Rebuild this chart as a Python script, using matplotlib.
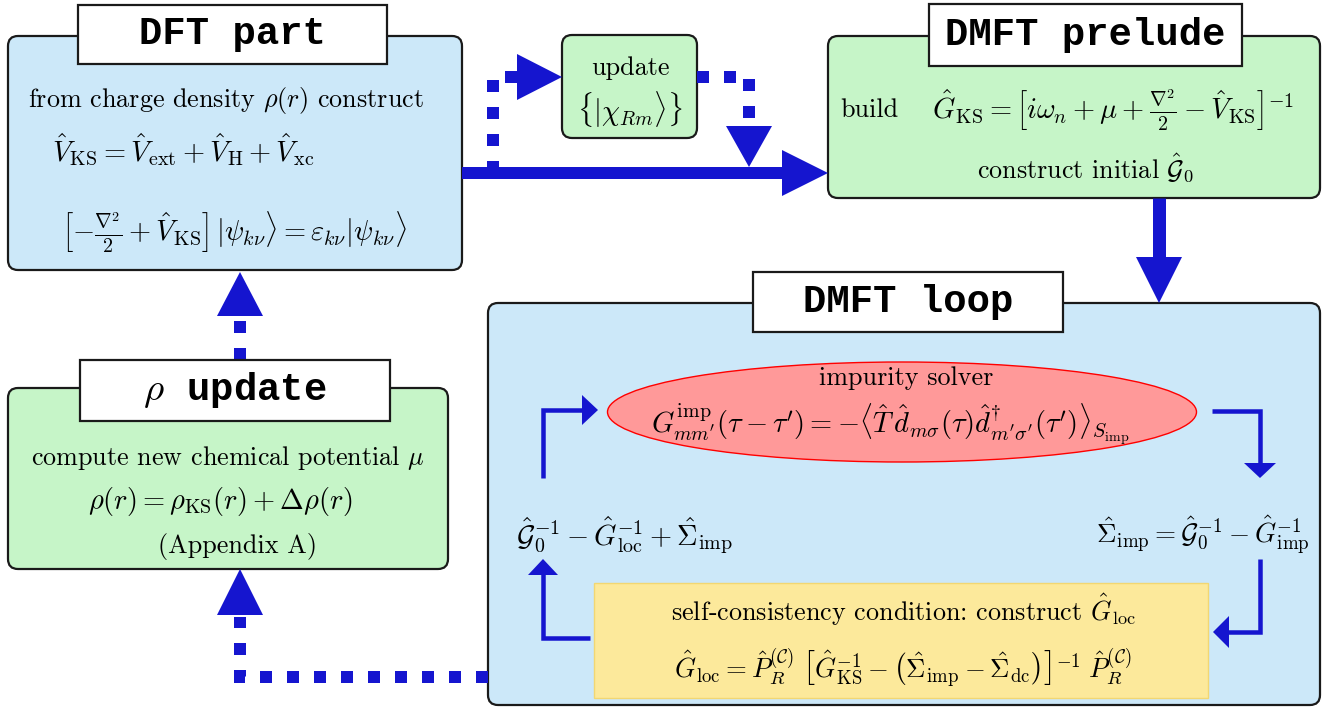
import matplotlib.pyplot as plt
from matplotlib.patches import FancyBboxPatch, Rectangle, Ellipse, Polygon

plt.rcParams['mathtext.fontset'] = 'cm'

# texts of the flowchart
TITLES = ['DFT part', 'DMFT prelude', 'DMFT loop', r'$\rho$ update']
DFT_LINES = [r'from charge density $\rho(r)$ construct',
             r'$\hat{V}_{\mathrm{KS}} = \hat{V}_{\mathrm{ext}} + \hat{V}_{\mathrm{H}} + \hat{V}_{\mathrm{xc}}$',
             r'$\left[-\frac{\nabla^2}{2} + \hat{V}_{\mathrm{KS}}\right]\,|\psi_{k\nu}\rangle = \varepsilon_{k\nu}|\psi_{k\nu}\rangle$']
UPDATE_LINES = ['update', r'$\{|\chi_{Rm}\rangle\}$']
PRELUDE_LINES = ['build',
                 r'$\hat{G}_{\mathrm{KS}} = \left[i\omega_n + \mu + \frac{\nabla^2}{2} - \hat{V}_{\mathrm{KS}}\right]^{-1}$',
                 r'construct initial $\hat{\mathcal{G}}_0$']
RHO_LINES = [r'compute new chemical potential $\mu$',
             r'$\rho(r) = \rho_{\mathrm{KS}}(r) + \Delta\rho(r)$',
             '(Appendix A)']
SOLVER_LINES = ['impurity solver',
                r'$G^{\mathrm{imp}}_{mm^{\prime}}(\tau - \tau^{\prime}) = -\langle\hat{T}\,\hat{d}_{m\sigma}(\tau)\hat{d}^{\dagger}_{m^{\prime}\sigma^{\prime}}(\tau^{\prime})\rangle_{S_{\mathrm{imp}}}$']
LOOP_LEFT = r'$\hat{\mathcal{G}}_0^{-1} - \hat{G}_{\mathrm{loc}}^{-1} + \hat{\Sigma}_{\mathrm{imp}}$'
LOOP_RIGHT = r'$\hat{\Sigma}_{\mathrm{imp}} = \hat{\mathcal{G}}_0^{-1} - \hat{G}_{\mathrm{imp}}^{-1}$'
SC_LINES = [r'self-consistency condition: construct $\hat{G}_{\mathrm{loc}}$',
            r'$\hat{G}_{\mathrm{loc}} = \hat{P}_R^{(\mathcal{C})}\;\left[\hat{G}_{\mathrm{KS}}^{-1} - \left(\hat{\Sigma}_{\mathrm{imp}} - \hat{\Sigma}_{\mathrm{dc}}\right)\right]^{-1}\;\hat{P}_R^{(\mathcal{C})}$']

BLUE = '#1515cf'
LBLUE = '#cce8f9'
GREEN = '#c6f5c8'
YELLOW = '#fce99b'
PINK = '#ff9999'

fig = plt.figure(figsize=(13.33, 7.08), dpi=100)
ax = fig.add_axes([0, 0, 1, 1])
ax.set_xlim(0, 1333)
ax.set_ylim(708, 0)
ax.axis('off')

PX = 0.72  # points per pixel


def box(x0, y0, x1, y1, fc):
    ax.add_patch(FancyBboxPatch((x0, y0), x1 - x0, y1 - y0,
                                boxstyle='round,pad=0,rounding_size=10',
                                fc=fc, ec='#1a1a1a', lw=1.6, zorder=1))


def title(x0, y0, x1, y1, label):
    ax.add_patch(Rectangle((x0, y0), x1 - x0, y1 - y0, fc='white',
                           ec='#1a1a1a', lw=1.6, zorder=4))
    ax.text((x0 + x1) / 2, (y0 + y1) / 2 + 10, label, ha='center', va='baseline',
            fontfamily='Liberation Mono', fontweight='bold', fontsize=28, zorder=5)


def txt(x, y, s, size=18.8, ha='center'):
    ax.text(x, y, s, ha=ha, va='center', fontfamily='cmr10', fontsize=size, zorder=6)


def head(tip, d, length, half):
    x, y = tip
    dx, dy = d
    bx, by = x - dx * length, y - dy * length
    px, py = -dy * half, dx * half
    ax.add_patch(Polygon([(x, y), (bx + px, by + py), (bx - px, by - py)],
                         closed=True, fc=BLUE, ec='none', zorder=3))


def solid(xs, ys, w):
    ax.plot(xs, ys, color=BLUE, lw=w * PX, solid_capstyle='butt',
            solid_joinstyle='miter', zorder=3)


def dashed(xs, ys, w=12):
    ax.plot(xs, ys, color=BLUE, lw=w * PX, linestyle=(0, (1, 1.25)),
            dash_capstyle='butt', dash_joinstyle='miter', zorder=3)


# boxes
box(8, 36, 462, 270, LBLUE)
box(562, 35, 697, 138, GREEN)
box(828, 36, 1320, 198, GREEN)
box(8, 388, 448, 569, GREEN)
box(488, 303, 1320, 705, LBLUE)
ax.add_patch(Ellipse((902, 412), 589, 100, fc=PINK, ec='red', lw=1, zorder=2))
ax.add_patch(Rectangle((594, 583), 614, 115, fc=YELLOW, ec='#f2d772', lw=1, zorder=2))

# titles
title(78, 5, 387, 64, TITLES[0])
title(929, 4, 1242, 66, TITLES[1])
title(753, 272, 1063, 332, TITLES[2])
title(80, 360, 390, 421, TITLES[3])

# DFT part
txt(28, 100, DFT_LINES[0], ha='left')
txt(52, 150, DFT_LINES[1], size=20.5, ha='left')
txt(234, 232, DFT_LINES[2], size=20.5)

# update box
txt(630, 68, UPDATE_LINES[0])
txt(630, 110, UPDATE_LINES[1], size=20.5)

# prelude
txt(840, 110, PRELUDE_LINES[0], ha='left')
txt(1113, 110, PRELUDE_LINES[1], size=20.5)
txt(1086, 168, PRELUDE_LINES[2])

# rho update
txt(228, 458, RHO_LINES[0])
txt(220, 502, RHO_LINES[1], size=20.5)
txt(238, 547, RHO_LINES[2])

# DMFT loop
txt(906, 378, SOLVER_LINES[0])
txt(890, 424, SOLVER_LINES[1], size=20.5)
txt(516, 535, LOOP_LEFT, size=20.5, ha='left')
txt(1310, 535, LOOP_RIGHT, size=19.5, ha='right')
txt(903, 610, SC_LINES[0])
txt(903, 668, SC_LINES[1], size=19.3)

# thick solid arrows
solid([462, 785], [173, 173], 12)
head((828, 173), (1, 0), 46, 23)
solid([1159, 1159], [198, 260], 13)
head((1159, 303), (0, 1), 46, 23)

# dashed arrows
dashed([493, 493, 520], [173, 77, 77])
head((562, 77), (1, 0), 45, 23)
dashed([697, 749, 749], [77, 77, 127])
head((749, 167), (0, 1), 41, 23)
dashed([240, 240], [360, 318])
head((240, 272), (0, -1), 44, 23)
dashed([488, 240, 240], [677, 677, 617])
head((240, 569), (0, -1), 46, 23)

# loop arrows
solid([543, 543, 584], [478, 410, 410], 4.5)
head((598, 410), (1, 0), 16, 15)
solid([1212, 1260, 1260], [411, 411, 465], 4.5)
head((1260, 478), (0, 1), 15, 16)
solid([1260, 1260, 1227], [559, 632, 632], 4.5)
head((1213, 632), (-1, 0), 16, 16)
solid([590, 543, 543], [638, 638, 574], 4.5)
head((543, 559), (0, -1), 16, 15)

fig.savefig('out.png', dpi=100)
